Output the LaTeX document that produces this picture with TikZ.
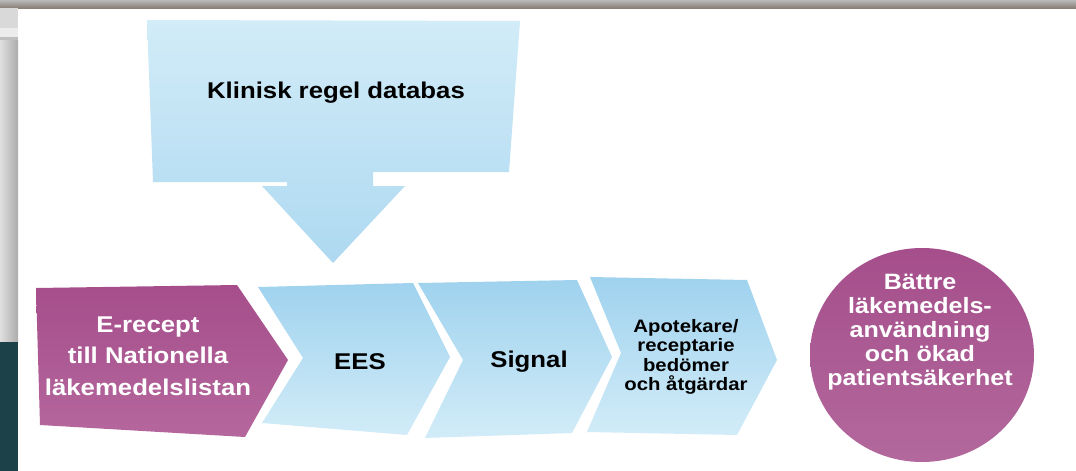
\documentclass[tikz,border=0pt]{standalone}
\usepackage{fontspec}
\usepackage{xcolor}
\usepackage{tikz}
\usetikzlibrary{positioning}

\newfontfamily\lblfont{Liberation Sans}[FakeStretch=1.13]

\definecolor{skyblue}{HTML}{9FD2EE}
\definecolor{paleblue}{HTML}{D2ECF8}
\definecolor{plum}{HTML}{A54E8B}
\definecolor{lightplum}{HTML}{B5679D}
\definecolor{slateteal}{HTML}{1C4148}

\tikzset{
  bluechev/.style={top color=skyblue, bottom color=paleblue},
  plumshape/.style={top color=plum, bottom color=lightplum},
  darklabel/.style={font=\lblfont\bfseries\fontsize{22.8}{31}\selectfont, align=center, text=black},
  lightlabel/.style={font=\lblfont\bfseries\fontsize{22.8}{31.5}\selectfont, align=center, text=white},
  smalllabel/.style={font=\lblfont\bfseries\fontsize{18}{19.5}\selectfont, align=center, text=black},
  roundlabel/.style={font=\lblfont\bfseries\fontsize{22.2}{24}\selectfont, align=center, text=white},
}

\begin{document}
\begin{tikzpicture}[x=1pt,y=-1pt]
	\useasboundingbox (0,0) rectangle (1076,471);
	\fill[white] (0,0) rectangle (1076,471);

	% \draw window frame
	\shade[top color=gray!55, bottom color=gray!85!brown] (0,0) rectangle (1076,8);
	\fill[gray!30] (0,8) rectangle (18,28);
	\fill[gray!15] (0,28) rectangle (18,37);
	\fill[gray!50] (0,37) rectangle (18,40);
	\shade[left color=gray!25, right color=gray!65] (0,40) rectangle (18,342);
	\fill[slateteal] (0,342) rectangle (18,471);

	% \draw rule database arrow
	\shade[bluechev, top color=paleblue, bottom color=skyblue!85]
	  (147,20) -- (520,21) -- (509,172) -- (373,172) -- (373,186) -- (405,186)
	  -- (333,263) -- (262,186) -- (287,186) -- (287,182) -- (153,182) -- cycle;

	% \draw chevrons
	\shade[plumshape] (36,288) -- (237,285) -- (288,360) -- (245,437) -- (40,425) -- cycle;
	\shade[bluechev] (258,287) -- (413,283) -- (450,357) -- (407,435) -- (262,423) -- (303,358) -- cycle;
	\shade[bluechev] (418,283) -- (577,280) -- (612,357) -- (572,433) -- (425,438) -- (463,360) -- cycle;
	\shade[bluechev] (590,277) -- (747,280) -- (777,360) -- (737,435) -- (587,432) -- (621,353) -- cycle;

	% \draw result circle
	\shade[plumshape, top color=plum, bottom color=plum!85!white] (922,355) ellipse (112 and 107);

	% labels
	\node[darklabel] (klinisk) at (336,93) {Klinisk regel databas};
	\node[lightlabel] (erecept) at (148,356) {E-recept\\till Nationella\\läkemedelslistan};
	\node[darklabel] (ees) at (360,362) {EES};
	\node[darklabel] (signal) at (529,362) {Signal};
	\node[smalllabel] (apotek) at (686,357) {Apotekare/\\receptarie\\bedömer\\och åtgärdar};
	\node[roundlabel] (battre) at (920,332) {Bättre\\läkemedels-\\användning\\och ökad\\patientsäkerhet};
\end{tikzpicture}
\end{document}
